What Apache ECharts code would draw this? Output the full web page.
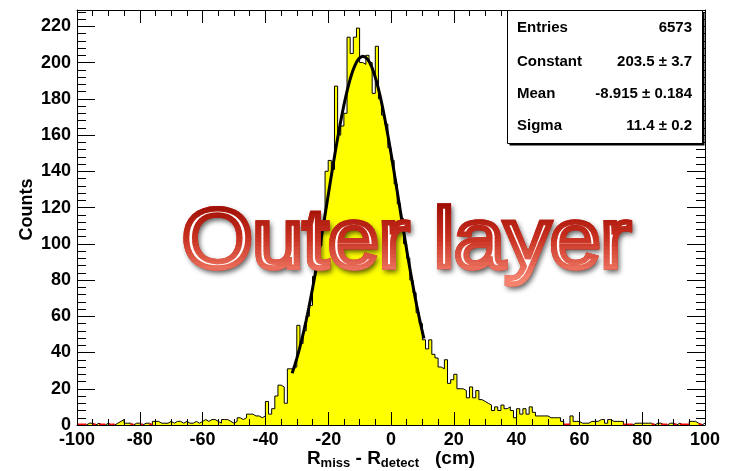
<!DOCTYPE html>
<html>
<head>
<meta charset="utf-8">
<title>R_miss - R_detect, outer layer</title>
<script src="https://cdn.jsdelivr.net/npm/echarts@6/dist/echarts.min.js"></script>
<style>
  html, body { margin: 0; padding: 0; background: #ffffff; }
  #chart { width: 733px; height: 471px; }
</style>
</head>
<body>
<div id="chart"></div>
<script>
// Histogram range and binning (cm)
const xMin = -100;
const xMax = 100;
const binWidth = 1;

// Bin contents, one per 1 cm bin from -100 to 99
const counts = [
  // -100 .. -41
  0, 0, 0, 1, 1, 0, 1, 0, 0, 1,
  0, 0, 1, 2, 3, 1, 1, 0, 1, 1,
  0, 1, 1, 0, 2, 2, 1, 1, 1, 2,
  1, 2, 2, 1, 2, 1, 1, 2, 1, 2,
  3, 2, 3, 3, 2, 1, 3, 3, 2, 1,
  2, 4, 3, 4, 6, 6, 5, 5, 4, 5,
  // -40 .. 10
  13, 6, 9, 16, 22, 21, 12, 31, 31, 32,
  55, 45, 52, 60, 66, 82, 88, 99, 108, 140,
  146, 141, 187, 160, 165, 172, 214, 205, 214, 219,
  200, 199, 204, 200, 183, 209, 180, 171, 166, 153,
  146, 133, 122, 114, 100, 92, 80, 73, 62, 56,
  47,
  // 11 .. 99
  42, 47, 39, 37, 32, 31, 36, 23, 25,
  28, 20, 20, 19, 15, 21, 15, 19, 14, 13,
  12, 11, 8, 10, 8, 11, 9, 10, 8, 4,
  9, 6, 9, 6, 10, 7, 5, 5, 5, 5,
  4, 4, 4, 4, 2, 0, 0, 5, 2, 2,
  1, 1, 1, 2, 2, 2, 3, 3, 1, 3,
  2, 2, 2, 2, 0, 0, 0, 1, 1, 1,
  1, 1, 1, 0, 1, 1, 0, 0, 1, 1,
  0, 1, 0, 0, 0, 2, 2, 1, 0, 1
];

// Gaussian fit result and the range it was fitted over
const fitConstant = 203.5;
const fitMean = -8.915;
const fitSigma = 11.4;
const fitRange = [-31.5, 10.5];

// Statistics box
const statNames = ['Entries', 'Constant', 'Mean', 'Sigma'];
const statValues = ['6573', '203.5 \u00b1 3.7', '-8.915 \u00b1 0.184', '11.4 \u00b1 0.2'];

// Axis ticks
const yMax = 229;
const yMajorTicks = [0, 20, 40, 60, 80, 100, 120, 140, 160, 180, 200, 220];
const yMinorStep = 4;

const FONT = '"Liberation Sans", Arial, Helvetica, sans-serif';

// Build the step outline: left edge of every bin, plus the closing edge
const histData = counts.map((c, i) => [xMin + i * binWidth, c]);
histData.push([xMax, counts[counts.length - 1]]);

// Empty bins, drawn as a red baseline
const emptyBins = [];
counts.forEach((c, i) => {
  if (c === 0) emptyBins.push([xMin + i * binWidth, xMin + (i + 1) * binWidth, 0]);
});

// Fitted Gaussian evaluated over the fit range
const fitData = [];
for (let x = fitRange[0]; x <= fitRange[1] + 1e-9; x += 0.1) {
  const z = (x - fitMean) / fitSigma;
  fitData.push([x, fitConstant * Math.exp(-0.5 * z * z)]);
}

const yMinorTicks = [];
for (let v = 0; v <= yMax; v += yMinorStep) {
  if (v % 20 !== 0) yMinorTicks.push(v);
}

const black = { color: '#000', width: 1 };

function xAxisCfg(pos, withLabels) {
  return {
    type: 'value', position: pos, min: xMin, max: xMax, interval: 20, z: 10,
    axisLine: { show: true, onZero: false, lineStyle: black },
    axisTick: { show: true, inside: true, length: 13, lineStyle: black },
    minorTick: { show: true, splitNumber: 4, length: 6, lineStyle: black },
    splitLine: { show: false }, minorSplitLine: { show: false },
    axisLabel: withLabels
      ? { show: true, color: '#000', fontSize: 18, fontWeight: 'bold', fontFamily: FONT, margin: 6 }
      : { show: false }
  };
}

function yAxisCfg(pos, ticks, len, showLine, withLabels) {
  return {
    type: 'value', position: pos, min: 0, max: yMax, z: 10,
    axisLine: { show: showLine, onZero: false, lineStyle: black },
    axisTick: { show: true, inside: true, length: len, lineStyle: black, customValues: ticks },
    minorTick: { show: false },
    splitLine: { show: false },
    axisLabel: withLabels
      ? { show: true, customValues: ticks, color: '#000', fontSize: 18, fontWeight: 'bold', fontFamily: FONT, margin: 6 }
      : { show: false }
  };
}

const xBottom = xAxisCfg('bottom', true);
xBottom.name = '{m|R}{s|miss}{m| - R}{s|detect}{m|   (cm)}';
xBottom.nameLocation = 'middle';
xBottom.nameGap = 23;
xBottom.nameMoveOverlap = false;
xBottom.nameTextStyle = {
  rich: {
    m: { fontSize: 19, fontWeight: 'bold', fontFamily: FONT, color: '#000', lineHeight: 22 },
    s: { fontSize: 13, fontWeight: 'bold', fontFamily: FONT, color: '#000', lineHeight: 6, verticalAlign: 'bottom' }
  }
};

const yLeft = yAxisCfg('left', yMajorTicks, 18, true, true);
yLeft.name = 'Counts';
yLeft.nameLocation = 'middle';
yLeft.nameGap = 41;
yLeft.nameMoveOverlap = false;
yLeft.nameTextStyle = { fontSize: 18, fontWeight: 'bold', fontFamily: FONT, color: '#000', padding: [0, 0, 0, 16] };

// Overlay caption: white letters, red outline shading from dark (top) to salmon (bottom)
const captionText = 'Outer layer';
const captionFont = '84px ' + FONT;
const captionX = 182, captionY = 244, captionScaleX = 1.08, captionStroke = 5.5;
const shadeStops = [[198, [150, 8, 0]], [238, [200, 48, 32]], [278, [245, 130, 110]]];
function shadeAt(y) {
  if (y <= shadeStops[0][0]) return shadeStops[0][1];
  for (let i = 1; i < shadeStops.length; i++) {
    if (y <= shadeStops[i][0]) {
      const t = (y - shadeStops[i - 1][0]) / (shadeStops[i][0] - shadeStops[i - 1][0]);
      return shadeStops[i - 1][1].map((c, k) => Math.round(c + (shadeStops[i][1][k] - c) * t));
    }
  }
  return shadeStops[shadeStops.length - 1][1];
}

const statsLeft = 507.5, statsTop = 10.5, statsW = 195, statsH = 133;
const statRowY = [28, 62, 94, 126];

const graphicElements = [
  // stats box: shadow, then body
  { type: 'rect', z: 50, silent: true,
    shape: { x: statsLeft + 2, y: statsTop + 2, width: statsW, height: statsH },
    style: { fill: '#000' } },
  { type: 'rect', z: 51, silent: true,
    shape: { x: statsLeft, y: statsTop, width: statsW, height: statsH },
    style: { fill: '#fff', stroke: '#000', lineWidth: 1 } }
];
statNames.forEach((name, i) => {
  graphicElements.push({
    type: 'text', z: 52, silent: true, x: 517, y: statRowY[i],
    style: { text: name, font: 'bold 15px ' + FONT, fill: '#000', align: 'left', verticalAlign: 'middle' }
  });
  graphicElements.push({
    type: 'text', z: 52, silent: true, x: 692, y: statRowY[i],
    style: { text: statValues[i], font: 'bold 15px ' + FONT, fill: '#000', align: 'right', verticalAlign: 'middle' }
  });
});

// caption: shadowed outline, white body, then shaded outline bands on top
graphicElements.push({
  type: 'text', z: 100, silent: true, x: captionX, y: captionY, scaleX: captionScaleX,
  style: {
    text: captionText, font: captionFont, align: 'left', verticalAlign: 'middle',
    fill: '#ffffff', stroke: 'rgb(200,48,32)', lineWidth: captionStroke,
    textShadowColor: 'rgba(0,0,0,0.45)', textShadowBlur: 5, textShadowOffsetX: 2, textShadowOffsetY: 3
  }
});
graphicElements.push({
  type: 'text', z: 101, silent: true, x: captionX, y: captionY, scaleX: captionScaleX,
  style: { text: captionText, font: captionFont, align: 'left', verticalAlign: 'middle', fill: '#ffffff' }
});
const bandTop = 190, bandBottom = 302, bandH = 4;
for (let y0 = bandTop; y0 < bandBottom; y0 += bandH) {
  const c = shadeAt(y0 + bandH / 2);
  graphicElements.push({
    type: 'text', z: 102, silent: true, x: captionX, y: captionY, scaleX: captionScaleX,
    clipPath: { type: 'rect', shape: { x: -20, y: y0 - captionY, width: 460, height: bandH + 0.6 } },
    style: {
      text: captionText, font: captionFont, align: 'left', verticalAlign: 'middle',
      fill: 'none', stroke: 'rgb(' + c.join(',') + ')', lineWidth: captionStroke
    }
  });
}

const chart = echarts.init(document.getElementById('chart'), null, { renderer: 'canvas' });
chart.setOption({
  animation: false,
  backgroundColor: '#ffffff',
  grid: { left: 77, right: 28, top: 10, bottom: 46, containLabel: false, outerBoundsMode: 'none' },
  xAxis: [xBottom, xAxisCfg('top', false)],
  yAxis: [
    yLeft,
    yAxisCfg('left', yMinorTicks, 9, false, false),
    yAxisCfg('right', yMajorTicks, 18, true, false),
    yAxisCfg('right', yMinorTicks, 9, false, false)
  ],
  series: [
    {
      name: 'histogram', type: 'line', xAxisIndex: 0, yAxisIndex: 0,
      data: histData, step: 'end', symbol: 'none', z: 2,
      lineStyle: { color: '#000', width: 1 },
      areaStyle: { color: '#ffff00', opacity: 1 }
    },
    {
      name: 'empty', type: 'custom', xAxisIndex: 0, yAxisIndex: 0, z: 3,
      data: emptyBins, encode: { x: [0, 1], y: 2 },
      renderItem: function (params, api) {
        const a = api.coord([api.value(0), 0]);
        const b = api.coord([api.value(1), 0]);
        return {
          type: 'line',
          shape: { x1: a[0], y1: a[1] - 0.5, x2: b[0], y2: b[1] - 0.5 },
          style: { stroke: '#ff0000', lineWidth: 2 }
        };
      }
    },
    {
      name: 'gaus fit', type: 'line', xAxisIndex: 0, yAxisIndex: 0,
      data: fitData, symbol: 'none', smooth: false, z: 4,
      lineStyle: { color: '#000', width: 3 }
    }
  ],
  graphic: { elements: graphicElements }
});
</script>
</body>
</html>
